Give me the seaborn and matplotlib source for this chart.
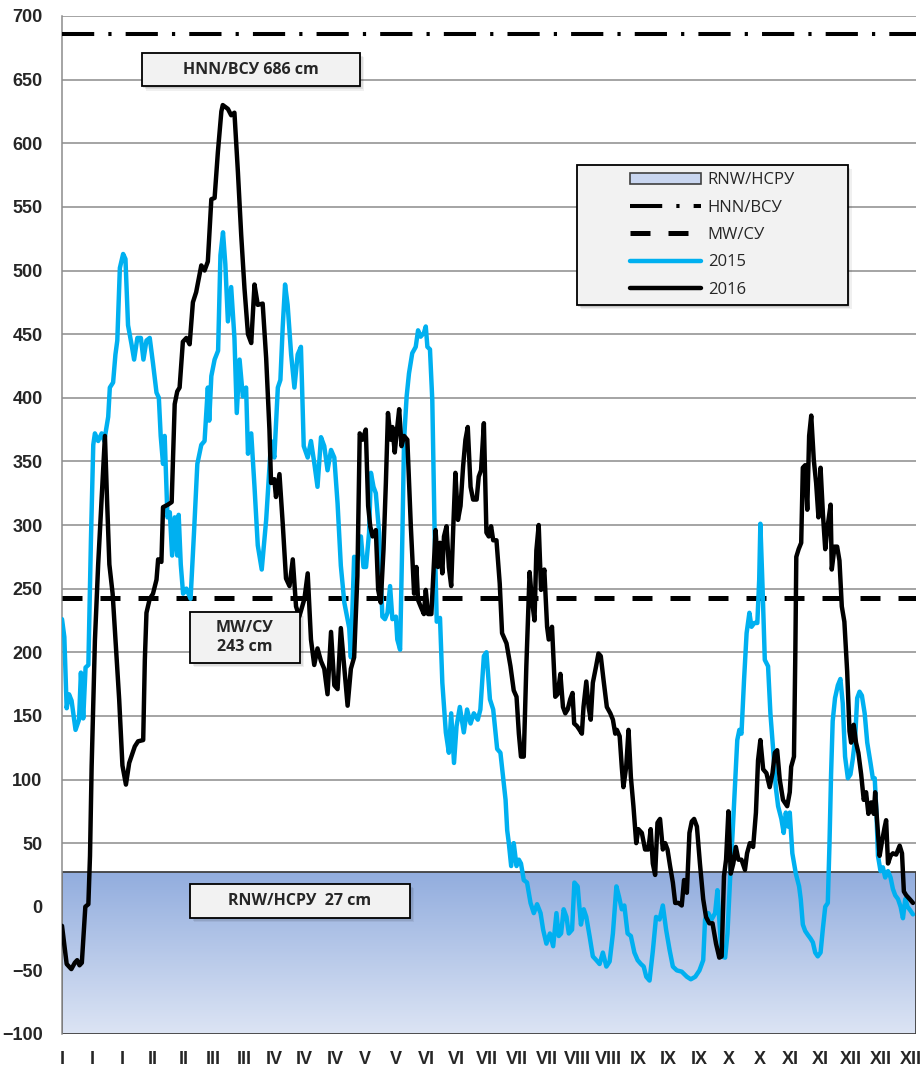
import numpy as np
import pandas as pd
import matplotlib.pyplot as plt
import seaborn as sns
from matplotlib.patches import Rectangle, Patch
from matplotlib.lines import Line2D
from matplotlib.colors import LinearSegmentedColormap

# ==========================================
# 1. Data (day of year, water level in cm)
# ==========================================
DAYS_2015 = [
    0, 1.0, 2.0, 3.0, 4.1, 5.8, 7.3, 8.1, 9.1, 10.1,
    11.3, 12.4, 13.4, 14.1, 15.5, 17.0, 18.1, 19.8, 20.5, 21.9,
    22.9, 23.7, 24.8, 26.2, 27.2, 28.3, 29.8, 30.9, 32.3, 33.8,
    34.9, 36.2, 37.6, 39.0, 40.5, 41.5, 42.3, 43.3, 44.0, 45.2,
    46.2, 47.2, 48.3, 49.4, 50.0, 50.9, 51.9, 53.3, 55.1, 56.6,
    58.0, 59.7, 61.1, 62.5, 63.1, 64.0, 65.4, 66.9, 67.9, 69.0,
    70.0, 71.1, 72.5, 73.9, 74.9, 76.1, 77.5, 78.9, 79.7, 81.1,
    82.5, 83.9, 85.6, 87.5, 89.6, 91.0, 92.5, 93.6, 94.6, 95.6,
    96.7, 98.2, 99.6, 101.0, 102.4, 103.6, 105.3, 106.7, 108.1, 109.5,
    111.0, 112.4, 113.8, 115.3, 116.7, 118.1, 119.5, 121.0, 123.1, 123.8,
    125.2, 126.6, 128.1, 129.2, 130.3, 131.6, 132.4, 133.5, 134.5, 135.9,
    137.3, 138.4, 139.5, 140.6, 141.6, 143.1, 143.7, 144.9, 145.9, 146.6,
    147.7, 148.7, 150.1, 151.6, 152.6, 153.7, 155.1, 155.9, 156.6, 157.7,
    158.7, 159.7, 160.6, 162.0, 163.0, 164.5, 165.8, 166.8, 168.0, 169.1,
    170.5, 172.2, 173.6, 175.1, 176.5, 178.2, 179.3, 180.8, 181.9, 183.4,
    184.8, 186.5, 187.9, 190.1, 190.8, 191.5, 192.5, 193.6, 194.8, 195.8,
    196.7, 197.9, 199.3, 200.8, 202.2, 203.6, 205.1, 206.2, 207.6, 209.1,
    210.5, 211.9, 212.9, 213.9, 215.0, 216.2, 217.2, 218.6, 219.6, 221.0,
    222.4, 223.6, 224.7, 226.1, 227.5, 229.0, 230.4, 231.8, 233.3, 234.7,
    236.1, 237.6, 238.7, 239.9, 241.0, 242.4, 243.8, 245.3, 246.7, 248.1,
    249.3, 250.4, 251.8, 253.2, 254.6, 256.1, 257.5, 258.9, 260.4, 261.8,
    263.5, 265.6, 267.8, 269.5, 271.4, 273.2, 274.8, 275.6, 277.0, 278.4,
    279.9, 280.9, 281.7, 282.7, 284.2, 285.2, 286.3, 287.4, 288.4, 289.4,
    290.3, 291.2, 292.3, 293.4, 294.6, 295.5, 296.7, 298.0, 298.8, 299.3,
    300.2, 301.2, 302.6, 303.6, 304.8, 305.9, 306.9, 308.3, 309.3, 310.2,
    311.2, 311.9, 313.0, 314.5, 315.9, 316.6, 317.5, 318.5, 319.6, 320.8,
    321.8, 322.8, 323.9, 325.1, 326.1, 327.1, 328.2, 328.9, 329.6, 330.3,
    331.3, 332.5, 333.6, 334.6, 335.6, 336.8, 337.9, 338.9, 339.9, 340.8,
    341.8, 342.8, 344.0, 345.1, 346.5, 347.5, 348.3, 349.0, 349.7, 350.8,
    351.8, 352.8, 354.0, 355.1, 356.1, 357.1, 358.3, 359.4, 360.4, 361.4,
    362.4, 363.6, 364.7,
]
LEVEL_2015 = [
    226, 212, 156, 167, 162, 139, 147, 184, 148, 188,
    190, 288, 363, 372, 366, 372, 366, 385, 408, 412,
    434, 445, 502, 513, 509, 457, 442, 430, 447, 447,
    430, 445, 447, 427, 404, 400, 370, 348, 370, 306,
    310, 276, 306, 276, 308, 269, 246, 250, 242, 295,
    348, 363, 366, 408, 382, 417, 430, 437, 512, 530,
    505, 460, 487, 447, 388, 430, 401, 408, 356, 372,
    330, 284, 265, 304, 366, 353, 408, 414, 456, 489,
    473, 434, 408, 434, 440, 362, 353, 366, 349, 330,
    369, 362, 343, 359, 353, 317, 268, 239, 219, 196,
    275, 273, 291, 267, 267, 294, 341, 330, 325, 294,
    228, 226, 231, 252, 226, 228, 210, 202, 294, 367,
    401, 419, 435, 440, 453, 448, 451, 456, 440, 438,
    398, 294, 224, 227, 176, 137, 121, 152, 113, 142,
    157, 137, 155, 144, 152, 147, 155, 197, 200, 163,
    155, 124, 121, 84, 60, 50, 32, 50, 32, 37,
    34, 21, 19, 3, -5, 2, -5, -18, -29, -21,
    -31, -5, -23, -21, -2, -8, -21, -18, 19, 16,
    -14, -2, -8, -23, -39, -42, -45, -36, -47, -43,
    -21, 16, 8, -2, 1, -21, -23, -36, -42, -45,
    -47, -55, -58, -35, -8, -10, 1, -18, -34, -47,
    -50, -51, -55, -57, -55, -50, -42, -10, -5, -10,
    -5, 13, -10, -39, -40, -21, 21, 58, 94, 131,
    139, 136, 178, 215, 231, 220, 223, 223, 257, 301,
    253, 194, 189, 152, 123, 94, 79, 69, 58, 74,
    63, 74, 42, 26, 16, 6, -14, -19, -22, -25,
    -28, -36, -39, -36, -17, 0, 3, 48, 104, 146,
    164, 174, 179, 160, 118, 101, 104, 116, 132, 164,
    169, 166, 152, 129, 113, 101, 101, 76, 40, 28,
    31, 23, 28, 23, 14, 9, 6, 0, -9, 6,
    0, -3, -6,
]

DAYS_2016 = [
    0, 2.0, 4.0, 5.5, 6.5, 7.5, 8.5, 10.0, 11.3, 12.0,
    12.7, 14.1, 15.5, 17.0, 18.4, 19.3, 20.3, 21.7, 23.1, 24.5,
    25.9, 27.4, 28.8, 31.2, 32.6, 34.8, 35.5, 36.2, 37.6, 39.0,
    40.5, 41.2, 42.6, 43.3, 45.4, 47.0, 48.3, 49.4, 50.4, 51.8,
    53.3, 54.7, 56.1, 57.5, 59.7, 61.1, 62.5, 64.0, 65.4, 66.8,
    68.3, 68.9, 71.1, 72.5, 73.9, 75.4, 76.8, 78.2, 79.7, 81.1,
    82.5, 83.9, 86.0, 87.5, 88.9, 89.6, 91.0, 91.7, 93.2, 94.6,
    96.0, 97.5, 98.9, 100.3, 101.7, 103.9, 105.3, 106.7, 108.1, 109.5,
    111.0, 112.4, 113.8, 115.3, 116.7, 118.1, 119.5, 121.0, 122.4, 123.8,
    125.2, 126.6, 127.6, 128.8, 130.2, 131.2, 132.1, 133.1, 134.5, 135.5,
    136.6, 137.8, 138.8, 139.7, 140.9, 141.6, 142.6, 143.4, 144.5, 145.5,
    146.6, 148.0, 149.5, 150.9, 151.9, 152.6, 153.7, 155.1, 155.9, 156.9,
    158.3, 159.1, 160.1, 161.1, 162.0, 163.0, 163.7, 164.8, 165.8, 166.8,
    167.7, 168.6, 169.7, 170.8, 171.9, 172.9, 173.9, 175.1, 176.2, 177.7,
    178.6, 179.6, 180.8, 181.9, 182.9, 183.9, 184.8, 186.2, 187.6, 188.6,
    190.5, 192.2, 193.6, 194.8, 195.8, 196.7, 197.9, 199.0, 200.4, 201.4,
    202.5, 203.3, 204.3, 205.3, 206.7, 207.9, 208.6, 210.0, 211.4, 212.4,
    213.6, 214.7, 215.7, 216.7, 217.8, 218.8, 219.5, 220.7, 221.8, 222.8,
    223.5, 224.7, 225.7, 226.6, 227.5, 228.9, 229.9, 230.9, 232.1, 233.5,
    235.0, 236.1, 237.1, 237.8, 239.0, 239.9, 240.6, 241.8, 242.8, 243.8,
    244.9, 246.1, 247.0, 248.5, 249.9, 251.3, 252.3, 253.2, 254.2, 255.2,
    256.3, 257.5, 258.5, 259.5, 260.6, 261.8, 262.8, 264.2, 265.6, 266.6,
    267.8, 268.9, 269.9, 270.9, 272.1, 273.4, 274.8, 276.0, 277.4, 278.8,
    280.3, 281.7, 282.7, 283.7, 284.6, 285.6, 286.6, 287.7, 288.8, 289.9,
    291.2, 292.7, 293.6, 294.8, 296.2, 297.4, 298.3, 299.3, 300.5, 301.9,
    303.3, 304.5, 305.5, 306.5, 307.6, 309.0, 310.8, 311.9, 312.5, 313.7,
    314.3, 314.7, 315.7, 316.8, 317.5, 318.5, 319.4, 320.2, 321.1, 322.2,
    323.2, 324.2, 325.1, 326.1, 327.1, 328.2, 329.4, 329.9, 331.1, 332.2,
    333.2, 334.2, 335.3, 336.5, 337.5, 338.2, 339.3, 340.3, 341.3, 342.5,
    343.6, 344.6, 345.6, 346.8, 347.9, 348.5, 349.3, 350.4, 351.4, 352.5,
    353.2, 354.0, 355.1, 356.1, 357.5, 359.0, 360.0, 360.8, 361.8, 363.3,
    364.7,
]
LEVEL_2016 = [
    -15, -45, -49, -44, -42, -46, -44, 0, 2, 40,
    110, 209, 269, 321, 370, 320, 269, 246, 205, 163,
    111, 96, 113, 126, 130, 131, 194, 231, 242, 246,
    257, 273, 271, 314, 316, 318, 395, 405, 408, 444,
    447, 442, 475, 483, 504, 500, 507, 556, 557, 593,
    625, 630, 627, 622, 624, 577, 528, 486, 450, 443,
    489, 473, 474, 431, 375, 333, 336, 322, 340, 301,
    258, 252, 273, 236, 228, 242, 262, 210, 190, 203,
    193, 187, 167, 216, 174, 171, 219, 187, 158, 187,
    196, 260, 372, 367, 375, 315, 299, 291, 296, 249,
    239, 281, 333, 388, 367, 377, 357, 372, 391, 362,
    370, 367, 299, 246, 267, 241, 236, 230, 249, 230,
    230, 260, 296, 267, 286, 262, 291, 299, 267, 252,
    299, 341, 304, 315, 346, 367, 377, 330, 320, 320,
    338, 343, 380, 294, 291, 299, 288, 288, 254, 215,
    207, 189, 170, 165, 136, 118, 118, 189, 263, 241,
    225, 280, 300, 249, 265, 220, 210, 220, 165, 167,
    183, 157, 152, 155, 163, 168, 144, 142, 139, 136,
    157, 177, 157, 147, 176, 189, 199, 197, 178, 157,
    152, 147, 136, 139, 134, 110, 94, 110, 139, 102,
    79, 50, 61, 58, 45, 45, 61, 34, 25, 66,
    69, 45, 50, 45, 32, 19, 3, 3, 1, 21,
    11, 58, 67, 69, 63, 34, 6, -8, -13, -13,
    -29, -40, -39, 24, 37, 75, 26, 34, 47, 37,
    37, 29, 42, 50, 47, 74, 115, 131, 108, 105,
    94, 105, 121, 123, 100, 84, 79, 90, 110, 118,
    202, 275, 281, 286, 345, 347, 312, 370, 386, 351,
    333, 306, 345, 309, 281, 300, 316, 265, 283, 283,
    272, 236, 224, 185, 138, 129, 143, 129, 121, 104,
    84, 90, 73, 82, 73, 90, 68, 40, 51, 62,
    68, 34, 40, 42, 41, 48, 42, 12, 9, 6,
    3,
]

HNN_LEVEL = 686   # HNN/ВСУ
MW_LEVEL = 243    # MW/СУ
RNW_LEVEL = 27    # RNW/НСРУ

# month labels every 13 days (2016 is a leap year)
TICK_LABELS = ["I", "I", "I", "II", "II", "III", "III", "IV", "IV", "IV",
               "V", "V", "VI", "VI", "VII", "VII", "VII", "VIII", "VIII",
               "IX", "IX", "IX", "X", "X", "XI", "XI", "XII", "XII", "XII"]
TICK_STEP = 13
YEAR_END = 366
Y_MIN, Y_MAX = -100, 700

BLUE = "#00B0F0"
BOX_FACE = "#F2F2F2"
HNN_DASH = (8.0, 3.5, 0.8, 3.5)
MW_DASH = (4.0, 3.6)
LINE_W = 3.2


def draw_box(ax, x0, y0, w, h, text, fontsize=11.5):
    # soft-ish shadow, then the box itself
    for k, a in [(3, 0.06), (2, 0.08), (1, 0.10)]:
        ax.add_patch(Rectangle((x0 + 0.0016 * k, y0 - 0.0014 * k), w, h,
                               transform=ax.transAxes, facecolor="black",
                               edgecolor="none", alpha=a, zorder=6))
    ax.add_patch(Rectangle((x0, y0), w, h, transform=ax.transAxes,
                           facecolor=BOX_FACE, edgecolor="black",
                           linewidth=1.3, zorder=7))
    if text:
        ax.text(x0 + w / 2, y0 + h / 2, text, transform=ax.transAxes,
                ha="center", va="center", fontsize=fontsize,
                fontweight="bold", family=["Open Sans", "DejaVu Sans"],
                zorder=8, linespacing=1.25)


def main():
    sns.set_style("white")
    plt.rcParams['font.family'] = ['Liberation Sans', 'DejaVu Sans']

    df15 = pd.DataFrame({'day': DAYS_2015, 'level': LEVEL_2015})
    df16 = pd.DataFrame({'day': DAYS_2016, 'level': LEVEL_2016})

    fig = plt.figure(figsize=(9.23, 10.72), dpi=100)
    ax = fig.add_axes([62 / 923, 1 - 1034 / 1072, 854 / 923, 1018 / 1072])

    # RNW band with a blue gradient
    cmap = LinearSegmentedColormap.from_list("rnw", ["#DCE4F4", "#92ADDE"])
    grad = np.linspace(0, 1, 256).reshape(-1, 1)
    ax.imshow(grad, extent=[0, YEAR_END, Y_MIN, RNW_LEVEL], origin="lower",
              cmap=cmap, aspect="auto", zorder=1)
    ax.add_patch(Rectangle((0, Y_MIN), YEAR_END, RNW_LEVEL - Y_MIN,
                           facecolor="none", edgecolor="#404040",
                           linewidth=1.3, zorder=1.5))

    # reference levels
    ax.axhline(HNN_LEVEL, color="black", lw=2.9, dashes=HNN_DASH, zorder=3)
    ax.axhline(MW_LEVEL, color="black", lw=3.6, dashes=MW_DASH, zorder=3)

    # water levels
    sns.lineplot(data=df15, x='day', y='level', ax=ax, color=BLUE, lw=LINE_W,
                 estimator=None, sort=False, legend=False, zorder=4)
    sns.lineplot(data=df16, x='day', y='level', ax=ax, color="black",
                 lw=LINE_W, estimator=None, sort=False, legend=False, zorder=5)

    ax.set_xlim(0, YEAR_END)
    ax.set_ylim(Y_MIN, Y_MAX)
    ax.set_xlabel("")
    ax.set_ylabel("")

    ax.set_yticks(range(Y_MIN, Y_MAX + 1, 50))
    ax.set_xticks(range(0, YEAR_END - 1, TICK_STEP))
    ax.set_xticklabels(TICK_LABELS)
    ax.tick_params(axis="y", length=0, pad=14, labelsize=13)
    ax.tick_params(axis="x", length=0, pad=12, labelsize=13)
    for lab in ax.get_yticklabels() + ax.get_xticklabels():
        lab.set_fontweight("bold")

    ax.set_axisbelow(True)
    ax.yaxis.grid(True, color="#8C8C8C", lw=1.1)
    ax.xaxis.grid(False)
    for side in ["top", "right", "bottom"]:
        ax.spines[side].set_visible(False)
    ax.spines["left"].set_color("#8C8C8C")
    ax.spines["left"].set_linewidth(1.1)

    # labelled boxes
    draw_box(ax, 0.0937, 0.931, 0.2553, 0.0327, "HNN/ВСУ 686 cm")
    draw_box(ax, 0.150, 0.3645, 0.1287, 0.050, "MW/СУ\n243 cm")
    draw_box(ax, 0.150, 0.114, 0.2575, 0.0333, "RNW/НСРУ  27 cm")

    # legend panel
    lx0, ly0, lw_, lh = 0.603, 0.716, 0.317, 0.1376
    draw_box(ax, lx0, ly0, lw_, lh, "")
    handles = [
        Patch(facecolor="#C9D6F0", edgecolor="#404040", linewidth=1.2),
        Line2D([], [], color="black", lw=2.9, dashes=HNN_DASH),
        Line2D([], [], color="black", lw=3.6, dashes=MW_DASH),
        Line2D([], [], color=BLUE, lw=LINE_W),
        Line2D([], [], color="black", lw=LINE_W),
    ]
    labels = ["RNW/НСРУ", "HNN/ВСУ", "MW/СУ", "2015", "2016"]
    leg = ax.legend(handles, labels, loc="center",
                    bbox_to_anchor=(lx0 + lw_ / 2, ly0 + lh / 2),
                    frameon=False, handlelength=4.3, handletextpad=0.4,
                    labelspacing=0.68, borderpad=0,
                    prop={"family": ["Open Sans", "DejaVu Sans"], "size": 12})
    leg.set_zorder(9)

    fig.savefig("out.png", dpi=100)
    plt.close(fig)


if __name__ == "__main__":
    main()
